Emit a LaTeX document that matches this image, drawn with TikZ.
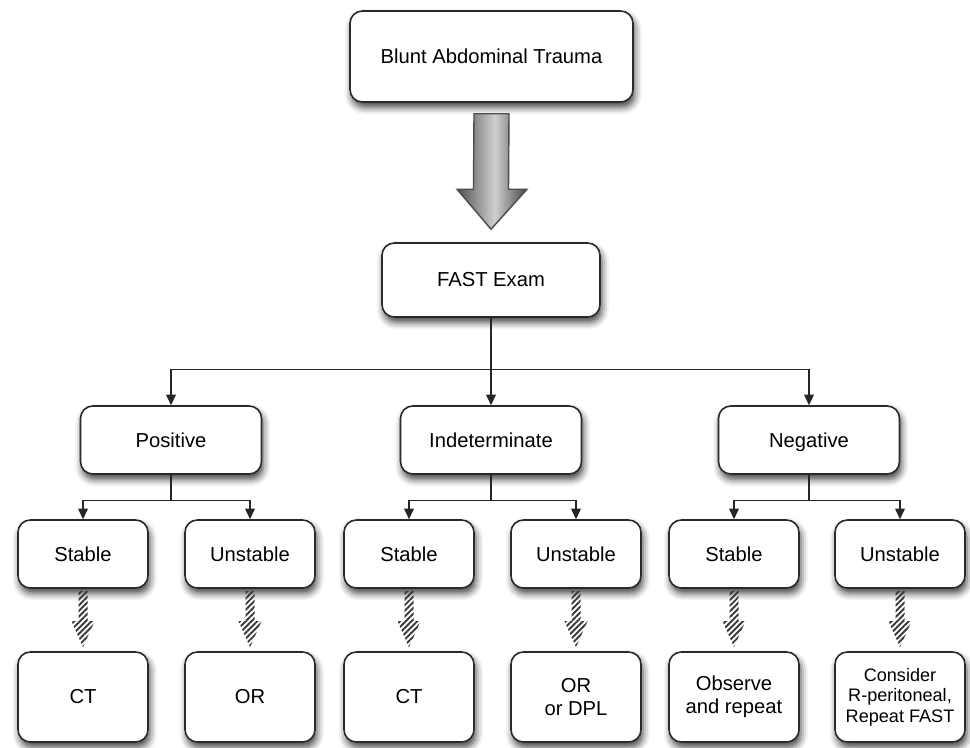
\documentclass[tikz,border=0pt]{standalone}
\usepackage{fontspec}
\setmainfont{Liberation Sans}
\usepackage{xcolor}
\usetikzlibrary{arrows.meta, calc, shadows.blur, patterns.meta}
\definecolor{boxframe}{HTML}{2A2A2A}
\definecolor{hatchcolor}{HTML}{3A3A3A}
\definecolor{arrowdark}{HTML}{505050}
\definecolor{arrowlight}{HTML}{CFCFCF}
\pgfdeclarehorizontalshading{bigarrowshade}{100bp}{%
  color(0bp)=(arrowdark); color(25bp)=(arrowdark);
  color(52bp)=(arrowlight); color(75bp)=(arrowdark!90!black);
  color(100bp)=(arrowdark!90!black)}

\begin{document}
\begin{tikzpicture}[
  x=0.02cm, y=-0.02cm,
  font=\fontsize{11.5}{13}\selectfont,
  stepbox/.style={rectangle, rounded corners=7pt, align=center,
                  draw=boxframe, fill=white, line width=0.9pt,
                  blur shadow={shadow xshift=1pt, shadow yshift=-3pt,
                               shadow blur radius=4pt, shadow opacity=75}},
  topbox/.style={stepbox, minimum width=5.66cm, minimum height=1.82cm},
  exambox/.style={stepbox, minimum width=4.36cm, minimum height=1.48cm},
  resultbox/.style={stepbox, minimum width=3.62cm, minimum height=1.36cm,
                    text height=8.2pt, text depth=0pt},
  statebox/.style={stepbox, minimum width=2.6cm, minimum height=1.36cm,
                   text height=8.2pt, text depth=0pt},
  actionbox/.style={stepbox, minimum width=2.6cm, minimum height=1.8cm},
  conn/.style={line width=0.7pt, black!85},
  connarr/.style={conn, -{Triangle[length=6pt, width=5.5pt]}},
  bigarrow/.style={draw=black!70, line width=0.8pt, shading=bigarrowshade},
  hatcharrow/.style={pattern={Lines[angle=45, distance=2.3pt, line width=1.1pt]},
                     pattern color=hatchcolor},
]
\useasboundingbox (0,0) rectangle (970,747);

%% -- Level 1 and 2 --------------------------------------------------------
\node[topbox]  (bat)  at (491.5, 56.5) {Blunt Abdominal Trauma};
\node[exambox] (fast) at (491, 280)    {FAST Exam};

% big shaded arrow between them
\path (bat.south)  ++(0,11)  coordinate (bigtop);
\path (fast.north) ++(0,-13) coordinate (bigtip);
\draw[bigarrow] ($(bigtop)+(-17.5,0)$) -- ($(bigtop)+(17.5,0)$)
  -- ($(bigtip)+(17.5,-40)$) -- ($(bigtip)+(36,-40)$) -- (bigtip)
  -- ($(bigtip)+(-34,-40)$) -- ($(bigtip)+(-17.5,-40)$) -- cycle;

%% -- Level 3: FAST results ------------------------------------------------
\node[resultbox] (pos) at (171, 440) {Positive};
\node[resultbox] (ind) at (491, 440) {Indeterminate};
\node[resultbox] (neg) at (809, 440) {Negative};

\draw[conn] (fast.south) -- ++(0,52) coordinate (fastsplit);
\draw[connarr] (fastsplit) -| (pos.north);
\draw[connarr] (fastsplit) -- (ind.north);
\draw[connarr] (fastsplit) -| (neg.north);

%% -- Level 4: patient state -----------------------------------------------
\node[statebox] (pstab) at (83, 554)  {Stable};
\node[statebox] (punst) at (250, 554) {Unstable};
\node[statebox] (istab) at (409, 554) {Stable};
\node[statebox] (iunst) at (576, 554) {Unstable};
\node[statebox] (nstab) at (734, 554) {Stable};
\node[statebox] (nunst) at (900, 554) {Unstable};

\foreach \res/\sa/\sb in {pos/pstab/punst, ind/istab/iunst, neg/nstab/nunst} {
  \draw[conn] (\res.south) -- ++(0,26) coordinate (\res split);
  \draw[connarr] (\res split) -| (\sa.north);
  \draw[connarr] (\res split) -| (\sb.north);
}

%% -- Level 5: management --------------------------------------------------
\node[actionbox] (pct)   at (83, 697)  {CT};
\node[actionbox] (por)   at (250, 697) {OR};
\node[actionbox] (ict)   at (409, 697) {CT};
\node[actionbox] (idpl)  at (576, 697) {OR\\or DPL};
\node[actionbox] (nobs)  at (734, 697) {Observe\\and repeat};
\node[actionbox, font=\fontsize{10.3}{11.6}\selectfont]
                 (ncons) at (900, 697) {Consider\\R-peritoneal,\\Repeat FAST};

% hatched arrows
\foreach \sa/\sb in {pstab/pct, punst/por, istab/ict, iunst/idpl, nstab/nobs, nunst/ncons} {
  \path[hatcharrow] ($(\sa.south)+(-4.5,2)$) -- ($(\sa.south)+(4.5,2)$)
    -- ($(\sb.north)+(4.5,-30)$) -- ($(\sb.north)+(11.5,-30)$)
    -- ($(\sb.north)+(0,-4)$)
    -- ($(\sb.north)+(-11.5,-30)$) -- ($(\sb.north)+(-4.5,-30)$) -- cycle;
}

\end{tikzpicture}
\end{document}
